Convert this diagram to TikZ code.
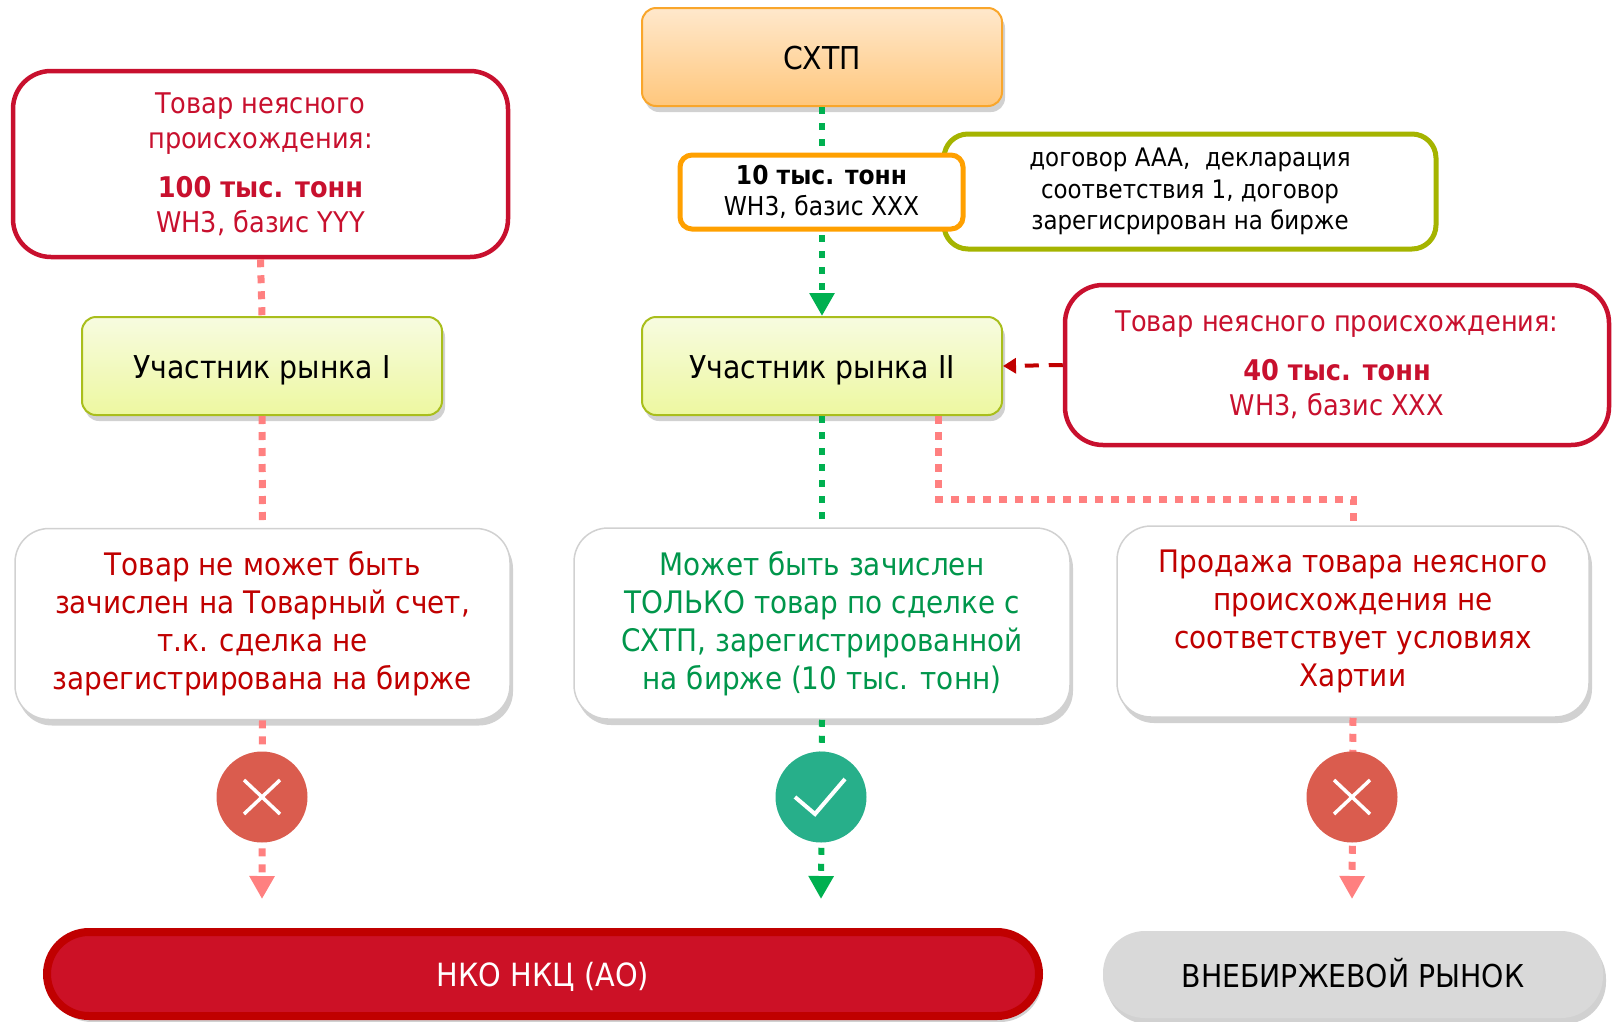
\documentclass[tikz,border=0pt]{standalone}
\usepackage{fontspec}
\setmainfont[FakeStretch=0.9]{DejaVu Sans}
\usetikzlibrary{arrows.meta,shadows}
\definecolor{crim}{HTML}{C8102E}
\definecolor{dred}{HTML}{C00000}
\definecolor{barred}{HTML}{CC1126}
\definecolor{salm}{HTML}{FF8080}
\definecolor{grn}{HTML}{00B050}
\definecolor{txtgrn}{HTML}{00964B}
\definecolor{olive}{HTML}{A5B400}
\definecolor{orng}{HTML}{FFA000}
\definecolor{sxtpline}{HTML}{F9A62B}
\definecolor{sxtptop}{HTML}{FFE8CC}
\definecolor{sxtpbot}{HTML}{FFC77C}
\definecolor{uchline}{HTML}{A9BE1C}
\definecolor{uchtop}{HTML}{F7FBE0}
\definecolor{uchbot}{HTML}{EDF8A0}
\definecolor{nogo}{HTML}{DA5C4E}
\definecolor{okgo}{HTML}{27AF8A}
\definecolor{greybar}{HTML}{D9D9D9}

\begin{document}
\begin{tikzpicture}[x=1pt,y=-1pt,
  every node/.style={inner sep=0pt,align=center},
  oneline/.style={text height=25pt,text depth=0pt},
  shad/.style={drop shadow={shadow xshift=3pt,shadow yshift=-6pt,opacity=0.3,fill=black!60}},
  sxtpbox/.style={shad,oneline,rounded corners=14pt,draw=sxtpline,line width=2pt,top color=sxtptop,bottom color=sxtpbot,minimum width=360pt,minimum height=98pt,font=\fontsize{31.5}{38}\selectfont},
  uchbox/.style={shad,oneline,rounded corners=14pt,draw=uchline,line width=2pt,top color=uchtop,bottom color=uchbot,minimum width=360pt,minimum height=98pt,font=\fontsize{31.5}{38}\selectfont},
  redbox/.style={rounded corners=38pt,draw=crim,line width=4.5pt,fill=white,text=crim,font=\fontsize{28.5}{35}\selectfont},
  infobox/.style={shad,rounded corners=34pt,draw=black!18,line width=1.5pt,fill=white,minimum height=191pt,font=\fontsize{31}{38}\selectfont},
  sign/.style={circle,minimum size=91pt},
  barbox/.style={shad,oneline,rounded corners=42pt,minimum height=86pt,font=\fontsize{32}{38}\selectfont},
  grnline/.style={draw=grn,line width=6pt,dash pattern=on 7pt off 9pt},
  salline/.style={draw=salm,line width=7pt,dash pattern=on 8pt off 8pt},
  bigtip/.style={-{Triangle[width=24pt,length=23pt]}}]
\useasboundingbox (0,0) rectangle (1618,1021);
\node[sxtpbox] (sxtp) at (822,57) {СХТП};
\node[redbox,minimum width=495pt,minimum height=186pt] (redL) at (260.5,164) {Товар неясного\\происхождения:\\[14pt]\textbf{100 тыс. тонн}\\WH3, базис YYY};
\node[rounded corners=24pt,draw=olive,line width=5pt,fill=white,minimum width=492pt,minimum height=115pt,font=\fontsize{25.5}{31.5}\selectfont] (dogovor) at (1190,191.5) {договор AAA,~ декларация\\соответствия 1, договор\\зарегисрирован на бирже};
\node[uchbox] (uch1) at (262,366) {Участник рынка I};
\node[uchbox] (uch2) at (822,366) {Участник рынка II};
\node[redbox,minimum width=544pt,minimum height=160pt] (redR) at (1337,365) {Товар неясного происхождения:\\[14pt]\textbf{40 тыс. тонн}\\WH3, базис XXX};
\node[infobox,minimum width=495pt,text=dred] (box1) at (262.5,624) {Товар не может быть\\зачислен на Товарный счет,\\т.к. сделка не\\зарегистрирована на бирже};
\node[infobox,minimum width=496pt,text=txtgrn] (box2) at (822,623.5) {Может быть зачислен\\ТОЛЬКО товар по сделке с\\СХТП, зарегистрированной\\на бирже (10 тыс. тонн)};
\node[infobox,minimum width=472pt,text=dred] (box3) at (1353,621.5) {Продажа товара неясного\\происхождения не\\соответствует условиях\\Хартии};
\node[barbox,draw=dred,line width=8pt,fill=barred,text=white,minimum width=992pt,minimum height=84pt] (nko) at (543,974) {НКО НКЦ (АО)};
\node[barbox,fill=greybar,minimum width=500pt,minimum height=87pt,font=\fontsize{31.5}{38}\selectfont] (vneb) at (1353,974.5) {ВНЕБИРЖЕВОЙ РЫНОК};
\coordinate (tip1) at (262,899);
\coordinate (tip2) at (821,899);
\coordinate (tip3) at (1352,899);
\draw[grnline,bigtip] (sxtp.south) -- (uch2.north);
\draw[grnline] (uch2.south) -- (box2.north);
\draw[grnline,bigtip] (box2.south) -- (tip2);
\draw[salline] (redL.south) -- (uch1.north);
\draw[salline] (uch1.south) -- (box1.north);
\draw[salline,bigtip] (box1.south) -- (tip1);
\draw[salline] ([xshift=116pt]uch2.south) |- ([yshift=26pt]box3.north) -- (box3.north);
\draw[salline,bigtip] (box3.south) -- (tip3);
\draw[dred,line width=4pt,dash pattern=on 14pt off 10pt,-{Triangle[width=15pt,length=13pt]}] (redR.west) -- (uch2.east);
\node[rounded corners=12pt,draw=orng,line width=5pt,fill=white,minimum width=283pt,minimum height=74pt,font=\fontsize{26}{31}\selectfont] (ton10) at (821.5,192) {\textbf{10 тыс. тонн}\\WH3, базис XXX};
\node[sign,fill=nogo] (no1) at (262,797) {};
\node[sign,fill=okgo] (ok) at (821,797) {};
\node[sign,fill=nogo] (no2) at (1352,797) {};
\foreach \s in {no1,no2}{
  \draw[white,line width=3.5pt] ([shift={(-18,-17)}]\s.center) -- ++(36,34);
  \draw[white,line width=3.5pt] ([shift={(18,-17)}]\s.center) -- ++(-36,34);
}
\draw[white,line width=4pt] ([shift={(-26,0)}]ok.center) -- ++(20,17) -- ++(30,-35);
\end{tikzpicture}
\end{document}
